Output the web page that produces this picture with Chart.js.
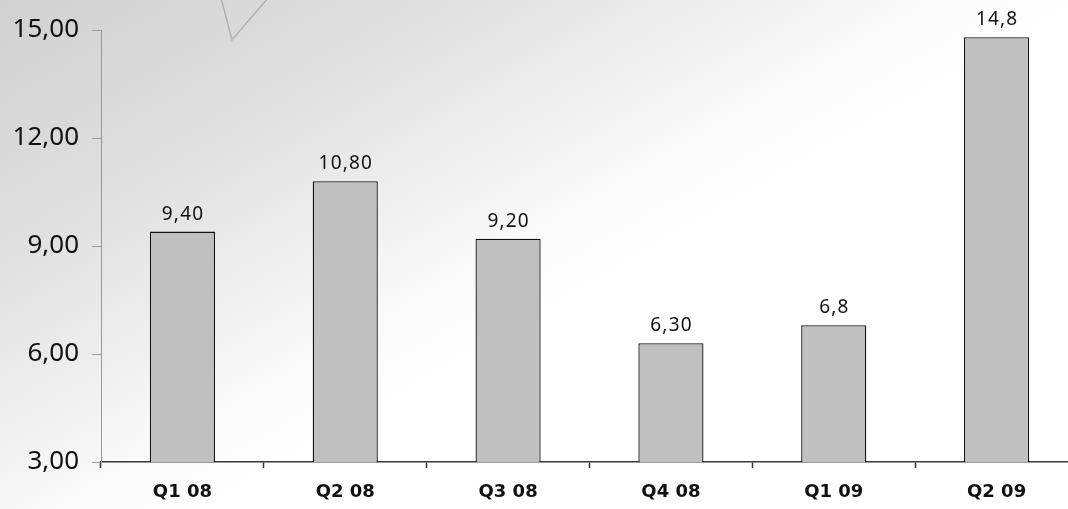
<!DOCTYPE html>
<html>
<head>
<meta charset="utf-8">
<script src="https://cdn.jsdelivr.net/npm/chart.js@4/dist/chart.umd.min.js"></script>
<style>
  html, body { margin: 0; padding: 0; overflow: hidden; }
  body {
    width: 1068px;
    height: 509px;
    background: linear-gradient(150deg, #d1d1d1 0%, #dddddd 20%, #ebebeb 34%, #f9f9f9 47%, #ffffff 56%, #ffffff 100%);
  }
  #wrap { position: relative; width: 1078px; height: 509px; }
</style>
</head>
<body>
<div id="wrap"><canvas id="quarterChart"></canvas></div>
<script>
const quarters = ['Q1 08', 'Q2 08', 'Q3 08', 'Q4 08', 'Q1 09', 'Q2 09'];
const values = [9.4, 10.8, 9.2, 6.3, 6.8, 14.8];
// decimals shown in each bar's value label
const labelDecimals = [2, 2, 2, 2, 1, 1];
const yMin = 3;
const yMax = 15;
const yStep = 3;

const toComma = (v, d) => v.toFixed(d).replace('.', ',');

// small chevron outline in the top left of the backdrop
const backdropMark = {
  id: 'backdropMark',
  beforeDraw(chart) {
    const ctx = chart.ctx;
    ctx.save();
    ctx.strokeStyle = '#b0b0b0';
    ctx.lineWidth = 1.5;
    ctx.beginPath();
    ctx.moveTo(221, -2);
    ctx.lineTo(232, 40);
    ctx.lineTo(268, -2);
    ctx.stroke();
    ctx.restore();
  }
};

// value labels above each bar
const valueLabels = {
  id: 'valueLabels',
  afterDatasetsDraw(chart) {
    const ctx = chart.ctx;
    const meta = chart.getDatasetMeta(0);
    ctx.save();
    ctx.font = '19px "Noto Sans"';
    ctx.letterSpacing = '1.2px';
    ctx.fillStyle = '#111';
    ctx.textAlign = 'center';
    ctx.textBaseline = 'alphabetic';
    meta.data.forEach((bar, i) => {
      ctx.fillText(toComma(values[i], labelDecimals[i]), bar.x + 0.6, bar.y - 12);
    });
    ctx.restore();
  }
};

const ctx = document.getElementById('quarterChart').getContext('2d');
new Chart(ctx, {
  type: 'bar',
  data: {
    labels: quarters,
    datasets: [{
      data: values,
      backgroundColor: '#c0c0c0',
      borderColor: '#111',
      borderWidth: 1.3,
      barPercentage: 0.4,
      categoryPercentage: 1.0
    }]
  },
  options: {
    responsive: true,
    maintainAspectRatio: false,
    animation: false,
    layout: { padding: { top: 30, right: 0, bottom: 0, left: 0 } },
    plugins: {
      legend: { display: false },
      tooltip: { enabled: false }
    },
    scales: {
      x: {
        grid: {
          offset: true,
          drawOnChartArea: false,
          drawTicks: true,
          tickLength: 6,
          tickColor: '#333',
          tickWidth: 1.5
        },
        border: { display: true, color: '#3a3a3a', width: 1.5 },
        ticks: {
          color: '#111',
          padding: 14,
          font: { family: 'DejaVu Sans', size: 18, weight: 'bold' },
          maxRotation: 0
        },
        afterFit(scale) { scale.height = 47; }
      },
      y: {
        min: yMin,
        max: yMax,
        ticks: {
          stepSize: yStep,
          color: '#111',
          padding: 13,
          font: { family: 'Noto Sans', size: 26 },
          callback: v => toComma(v, 2)
        },
        grid: {
          drawOnChartArea: false,
          drawTicks: true,
          tickLength: 9,
          tickColor: '#999'
        },
        border: { display: true, color: '#999', width: 1 },
        afterFit(scale) { scale.width = 101; }
      }
    }
  },
  plugins: [backdropMark, valueLabels]
});
</script>
</body>
</html>
